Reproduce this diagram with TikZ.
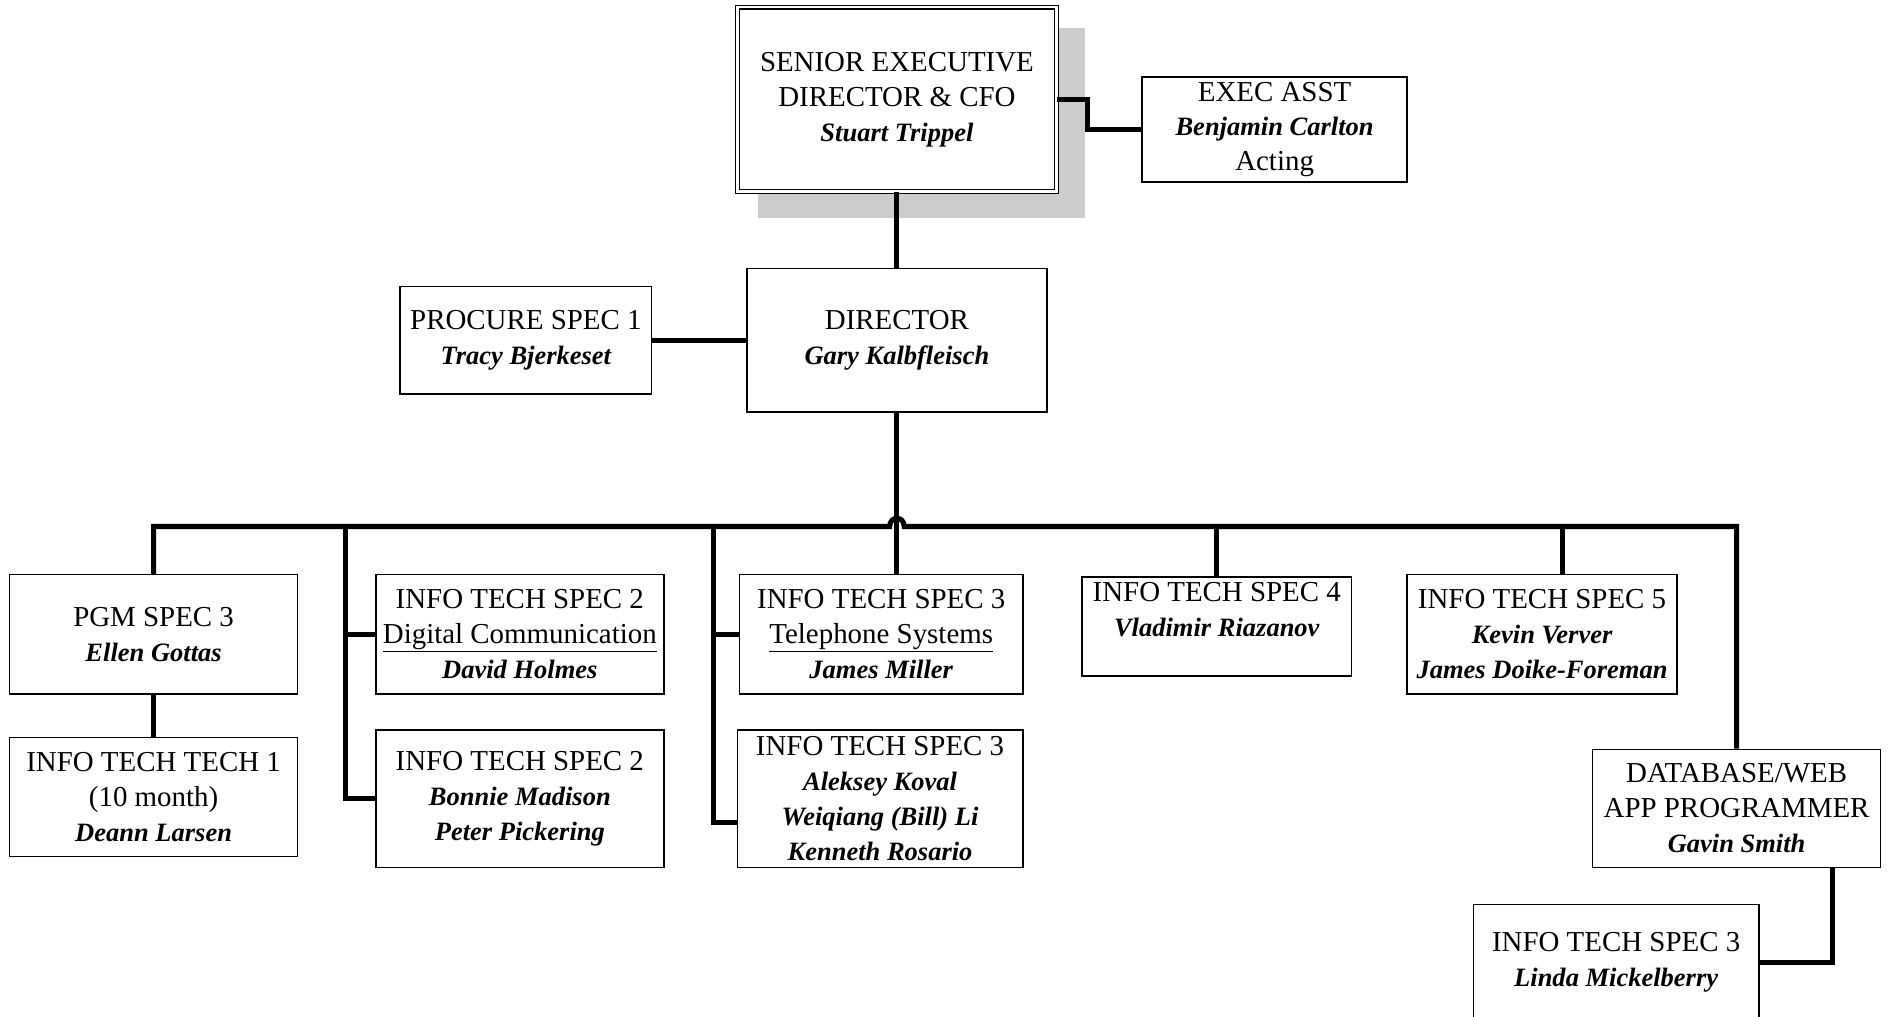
\documentclass[tikz,border=0pt]{standalone}
\usepackage{fontspec}
\setmainfont{Liberation Serif}
\newcommand\nm[1]{{\fontsize{22}{29}\selectfont\bfseries\itshape #1}}
\tikzset{
  box/.style={draw, line width=1.2pt, rectangle, inner sep=0pt, align=center,
              font=\fontsize{24}{29}\selectfont},
  conn/.style={line width=4.2pt},
}
\begin{document}
\begin{tikzpicture}[x=1pt,y=-1pt]
\useasboundingbox (0,0) rectangle (1568,844);
\clip (0,0) rectangle (1568,844);
\fill[white] (0,0) rectangle (1568,844);
% shadow of top box
\fill[black!20] (629,23) rectangle (901,181);
% nodes
\node[box, fill=white, double, double distance=2pt, minimum width=265pt, minimum height=153pt] (sen) at (744.5,82.5)
  {SENIOR EXECUTIVE\\DIRECTOR \& CFO\\\nm{Stuart Trippel}};
\node[box, minimum width=220pt, minimum height=87pt] (exec) at (1058,107.5)
  {EXEC ASST\\\nm{Benjamin Carlton}\\Acting};
\node[box, minimum width=249pt, minimum height=119pt] (dir) at (744.5,282.5)
  {DIRECTOR\\\nm{Gary Kalbfleisch}};
\node[box, minimum width=209pt, minimum height=89pt] (proc) at (436.5,282.5)
  {PROCURE SPEC 1\\\nm{Tracy Bjerkeset}};
\node[box, minimum width=239pt, minimum height=99pt] (pgm) at (127.5,526.5)
  {PGM SPEC 3\\\nm{Ellen Gottas}};
\node[box, minimum width=239pt, minimum height=99pt] (itt1) at (127.5,661.5)
  {INFO TECH TECH 1\\(10 month)\\\nm{Deann Larsen}};
\node[box, minimum width=239pt, minimum height=99pt] (its2a) at (431.5,526.5)
  {INFO TECH SPEC 2\\\underline{Digital Communication}\\\nm{David Holmes}};
\node[box, minimum width=239pt, minimum height=114pt] (its2b) at (431.5,663)
  {INFO TECH SPEC 2\\\nm{Bonnie Madison}\\\nm{Peter Pickering}};
\node[box, minimum width=235pt, minimum height=99pt] (its3a) at (731.5,526.5)
  {INFO TECH SPEC 3\\\underline{Telephone Systems}\\\nm{James Miller}};
\node[box, minimum width=237pt, minimum height=114pt] (its3b) at (730.5,663)
  {INFO TECH SPEC 3\\\nm{Aleksey Koval}\\\nm{Weiqiang (Bill) Li}\\\nm{Kenneth Rosario}};
\node[box, minimum width=224pt, minimum height=82pt] (its4) at (1010,520)
  {INFO TECH SPEC 4\\\nm{Vladimir Riazanov}\\\mbox{}};
\node[box, minimum width=224pt, minimum height=99pt] (its5) at (1280,526.5)
  {INFO TECH SPEC 5\\\nm{Kevin Verver}\\\nm{James Doike-Foreman}};
\node[box, minimum width=239pt, minimum height=98pt] (db) at (1441.5,671)
  {DATABASE/WEB\\APP PROGRAMMER\\\nm{Gavin Smith}};
\node[box, minimum width=237pt, minimum height=96pt] (linda) at (1341.5,799)
  {INFO TECH SPEC 3\\\nm{Linda Mickelberry}};
% bus and junction coordinates
\coordinate (bus) at (0,437);
\coordinate (s2) at (287,437);
\coordinate (s3) at (592,437);
\coordinate (s5) at (1297,437);
% connectors
\draw[conn] (sen.east) -- ++(25,0) |- (exec.west);
\draw[conn] (sen.south) -- (dir.north);
\draw[conn] (proc.east) -- (dir.west);
\draw[conn] (dir.south) -- (dir.south |- its3a.north);
\draw[conn] (pgm.north) -- (pgm.north |- bus) -- (738.5,437)
  .. controls (738.5,428) and (750.5,428) .. (750.5,437) -| (db.north);
\draw[conn] (pgm.south) -- (itt1.north);
\draw[conn] (s2) |- (its2a.west);
\draw[conn] (s2) |- (its2b.west);
\draw[conn] (s3) |- (its3a.west);
\draw[conn] (s3) |- ([yshift=-20pt]its3b.west);
\draw[conn] (its4.north |- bus) -- (its4.north);
\draw[conn] (s5) -- (s5 |- its5.north);
\draw[conn] ([xshift=79.5pt]db.south) |- (linda.east);
\end{tikzpicture}
\end{document}
